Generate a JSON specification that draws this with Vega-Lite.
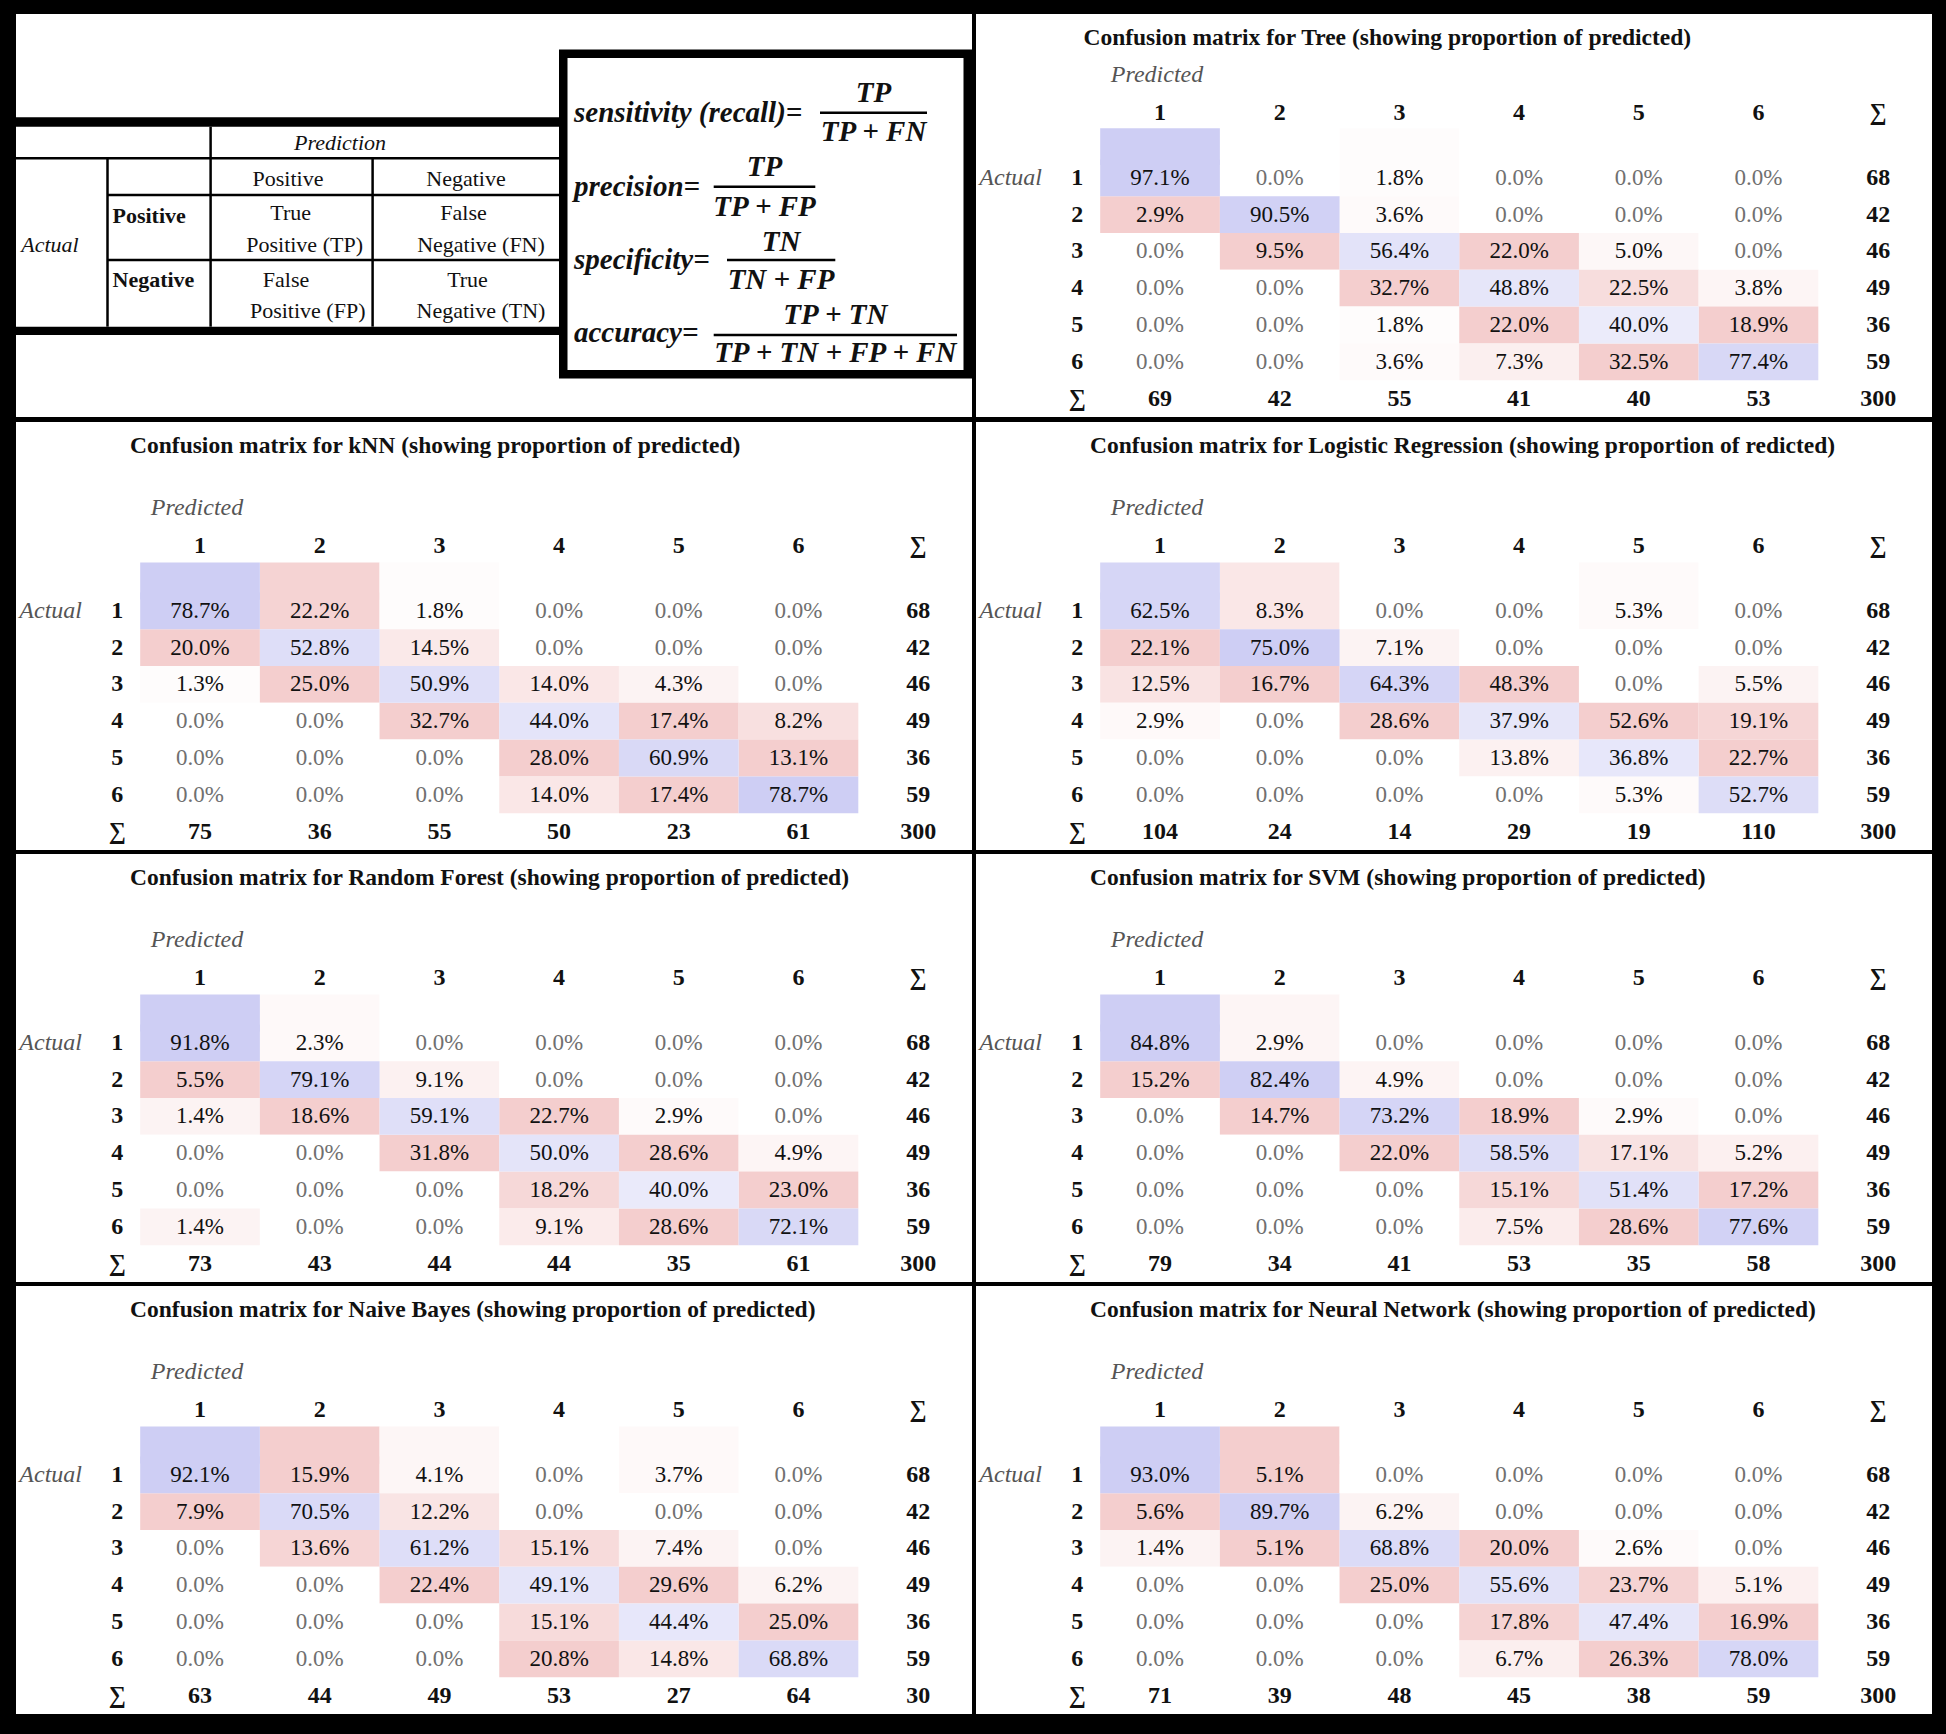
{
"$schema": "https://vega.github.io/schema/vega-lite/v6.json",
"background": "black",
"padding": {"left": 14, "top": 14, "right": 16, "bottom": 21},
"spacing": 4,
"config": {"view": {"stroke": null, "fill": "white"}, "text": {"font": "Liberation Serif", "color": "#111111"}, "header": {"labels": false, "labelFontSize": 1, "labelColor": "transparent", "labelPadding": 0, "titlePadding": 0, "titleFontSize": 1, "titleColor": "transparent"}},
"datasets": {
"cells": [
{"k":"c","m":"Tree","r":"1","c":"1","p":0.971,"w":1},{"k":"c","m":"Tree","r":"1","c":"2","p":0,"w":0},{"k":"c","m":"Tree","r":"1","c":"3","p":0.018,"w":0.055},{"k":"c","m":"Tree","r":"1","c":"4","p":0,"w":0},{"k":"c","m":"Tree","r":"1","c":"5","p":0,"w":0},{"k":"c","m":"Tree","r":"1","c":"6","p":0,"w":0},
{"k":"c","m":"Tree","r":"2","c":"1","p":0.029,"w":1},{"k":"c","m":"Tree","r":"2","c":"2","p":0.905,"w":0.932},{"k":"c","m":"Tree","r":"2","c":"3","p":0.036,"w":0.11},{"k":"c","m":"Tree","r":"2","c":"4","p":0,"w":0},{"k":"c","m":"Tree","r":"2","c":"5","p":0,"w":0},{"k":"c","m":"Tree","r":"2","c":"6","p":0,"w":0},
{"k":"c","m":"Tree","r":"3","c":"1","p":0,"w":0},{"k":"c","m":"Tree","r":"3","c":"2","p":0.095,"w":1},{"k":"c","m":"Tree","r":"3","c":"3","p":0.564,"w":0.581},{"k":"c","m":"Tree","r":"3","c":"4","p":0.22,"w":1},{"k":"c","m":"Tree","r":"3","c":"5","p":0.05,"w":0.154},{"k":"c","m":"Tree","r":"3","c":"6","p":0,"w":0},
{"k":"c","m":"Tree","r":"4","c":"1","p":0,"w":0},{"k":"c","m":"Tree","r":"4","c":"2","p":0,"w":0},{"k":"c","m":"Tree","r":"4","c":"3","p":0.327,"w":1},{"k":"c","m":"Tree","r":"4","c":"4","p":0.488,"w":0.503},{"k":"c","m":"Tree","r":"4","c":"5","p":0.225,"w":0.692},{"k":"c","m":"Tree","r":"4","c":"6","p":0.038,"w":0.201},
{"k":"c","m":"Tree","r":"5","c":"1","p":0,"w":0},{"k":"c","m":"Tree","r":"5","c":"2","p":0,"w":0},{"k":"c","m":"Tree","r":"5","c":"3","p":0.018,"w":0.055},{"k":"c","m":"Tree","r":"5","c":"4","p":0.22,"w":1},{"k":"c","m":"Tree","r":"5","c":"5","p":0.4,"w":0.412},{"k":"c","m":"Tree","r":"5","c":"6","p":0.189,"w":1},
{"k":"c","m":"Tree","r":"6","c":"1","p":0,"w":0},{"k":"c","m":"Tree","r":"6","c":"2","p":0,"w":0},{"k":"c","m":"Tree","r":"6","c":"3","p":0.036,"w":0.11},{"k":"c","m":"Tree","r":"6","c":"4","p":0.073,"w":0.332},{"k":"c","m":"Tree","r":"6","c":"5","p":0.325,"w":1},{"k":"c","m":"Tree","r":"6","c":"6","p":0.774,"w":0.797},

{"k":"c","m":"kNN","r":"1","c":"1","p":0.787,"w":1},{"k":"c","m":"kNN","r":"1","c":"2","p":0.222,"w":0.888},{"k":"c","m":"kNN","r":"1","c":"3","p":0.018,"w":0.055},{"k":"c","m":"kNN","r":"1","c":"4","p":0,"w":0},{"k":"c","m":"kNN","r":"1","c":"5","p":0,"w":0},{"k":"c","m":"kNN","r":"1","c":"6","p":0,"w":0},
{"k":"c","m":"kNN","r":"2","c":"1","p":0.2,"w":1},{"k":"c","m":"kNN","r":"2","c":"2","p":0.528,"w":0.671},{"k":"c","m":"kNN","r":"2","c":"3","p":0.145,"w":0.443},{"k":"c","m":"kNN","r":"2","c":"4","p":0,"w":0},{"k":"c","m":"kNN","r":"2","c":"5","p":0,"w":0},{"k":"c","m":"kNN","r":"2","c":"6","p":0,"w":0},
{"k":"c","m":"kNN","r":"3","c":"1","p":0.013,"w":0.065},{"k":"c","m":"kNN","r":"3","c":"2","p":0.25,"w":1},{"k":"c","m":"kNN","r":"3","c":"3","p":0.509,"w":0.647},{"k":"c","m":"kNN","r":"3","c":"4","p":0.14,"w":0.5},{"k":"c","m":"kNN","r":"3","c":"5","p":0.043,"w":0.247},{"k":"c","m":"kNN","r":"3","c":"6","p":0,"w":0},
{"k":"c","m":"kNN","r":"4","c":"1","p":0,"w":0},{"k":"c","m":"kNN","r":"4","c":"2","p":0,"w":0},{"k":"c","m":"kNN","r":"4","c":"3","p":0.327,"w":1},{"k":"c","m":"kNN","r":"4","c":"4","p":0.44,"w":0.559},{"k":"c","m":"kNN","r":"4","c":"5","p":0.174,"w":1},{"k":"c","m":"kNN","r":"4","c":"6","p":0.082,"w":0.626},
{"k":"c","m":"kNN","r":"5","c":"1","p":0,"w":0},{"k":"c","m":"kNN","r":"5","c":"2","p":0,"w":0},{"k":"c","m":"kNN","r":"5","c":"3","p":0,"w":0},{"k":"c","m":"kNN","r":"5","c":"4","p":0.28,"w":1},{"k":"c","m":"kNN","r":"5","c":"5","p":0.609,"w":0.774},{"k":"c","m":"kNN","r":"5","c":"6","p":0.131,"w":1},
{"k":"c","m":"kNN","r":"6","c":"1","p":0,"w":0},{"k":"c","m":"kNN","r":"6","c":"2","p":0,"w":0},{"k":"c","m":"kNN","r":"6","c":"3","p":0,"w":0},{"k":"c","m":"kNN","r":"6","c":"4","p":0.14,"w":0.5},{"k":"c","m":"kNN","r":"6","c":"5","p":0.174,"w":1},{"k":"c","m":"kNN","r":"6","c":"6","p":0.787,"w":1},

{"k":"c","m":"Logistic Regression","r":"1","c":"1","p":0.625,"w":0.833},{"k":"c","m":"Logistic Regression","r":"1","c":"2","p":0.083,"w":0.497},{"k":"c","m":"Logistic Regression","r":"1","c":"3","p":0,"w":0},{"k":"c","m":"Logistic Regression","r":"1","c":"4","p":0,"w":0},{"k":"c","m":"Logistic Regression","r":"1","c":"5","p":0.053,"w":0.101},{"k":"c","m":"Logistic Regression","r":"1","c":"6","p":0,"w":0},
{"k":"c","m":"Logistic Regression","r":"2","c":"1","p":0.221,"w":1},{"k":"c","m":"Logistic Regression","r":"2","c":"2","p":0.75,"w":1},{"k":"c","m":"Logistic Regression","r":"2","c":"3","p":0.071,"w":0.248},{"k":"c","m":"Logistic Regression","r":"2","c":"4","p":0,"w":0},{"k":"c","m":"Logistic Regression","r":"2","c":"5","p":0,"w":0},{"k":"c","m":"Logistic Regression","r":"2","c":"6","p":0,"w":0},
{"k":"c","m":"Logistic Regression","r":"3","c":"1","p":0.125,"w":0.566},{"k":"c","m":"Logistic Regression","r":"3","c":"2","p":0.167,"w":1},{"k":"c","m":"Logistic Regression","r":"3","c":"3","p":0.643,"w":0.857},{"k":"c","m":"Logistic Regression","r":"3","c":"4","p":0.483,"w":1},{"k":"c","m":"Logistic Regression","r":"3","c":"5","p":0,"w":0},{"k":"c","m":"Logistic Regression","r":"3","c":"6","p":0.055,"w":0.242},
{"k":"c","m":"Logistic Regression","r":"4","c":"1","p":0.029,"w":0.131},{"k":"c","m":"Logistic Regression","r":"4","c":"2","p":0,"w":0},{"k":"c","m":"Logistic Regression","r":"4","c":"3","p":0.286,"w":1},{"k":"c","m":"Logistic Regression","r":"4","c":"4","p":0.379,"w":0.505},{"k":"c","m":"Logistic Regression","r":"4","c":"5","p":0.526,"w":1},{"k":"c","m":"Logistic Regression","r":"4","c":"6","p":0.191,"w":0.841},
{"k":"c","m":"Logistic Regression","r":"5","c":"1","p":0,"w":0},{"k":"c","m":"Logistic Regression","r":"5","c":"2","p":0,"w":0},{"k":"c","m":"Logistic Regression","r":"5","c":"3","p":0,"w":0},{"k":"c","m":"Logistic Regression","r":"5","c":"4","p":0.138,"w":0.286},{"k":"c","m":"Logistic Regression","r":"5","c":"5","p":0.368,"w":0.491},{"k":"c","m":"Logistic Regression","r":"5","c":"6","p":0.227,"w":1},
{"k":"c","m":"Logistic Regression","r":"6","c":"1","p":0,"w":0},{"k":"c","m":"Logistic Regression","r":"6","c":"2","p":0,"w":0},{"k":"c","m":"Logistic Regression","r":"6","c":"3","p":0,"w":0},{"k":"c","m":"Logistic Regression","r":"6","c":"4","p":0,"w":0},{"k":"c","m":"Logistic Regression","r":"6","c":"5","p":0.053,"w":0.101},{"k":"c","m":"Logistic Regression","r":"6","c":"6","p":0.527,"w":0.703},

{"k":"c","m":"Random Forest","r":"1","c":"1","p":0.918,"w":1},{"k":"c","m":"Random Forest","r":"1","c":"2","p":0.023,"w":0.124},{"k":"c","m":"Random Forest","r":"1","c":"3","p":0,"w":0},{"k":"c","m":"Random Forest","r":"1","c":"4","p":0,"w":0},{"k":"c","m":"Random Forest","r":"1","c":"5","p":0,"w":0},{"k":"c","m":"Random Forest","r":"1","c":"6","p":0,"w":0},
{"k":"c","m":"Random Forest","r":"2","c":"1","p":0.055,"w":1},{"k":"c","m":"Random Forest","r":"2","c":"2","p":0.791,"w":0.862},{"k":"c","m":"Random Forest","r":"2","c":"3","p":0.091,"w":0.286},{"k":"c","m":"Random Forest","r":"2","c":"4","p":0,"w":0},{"k":"c","m":"Random Forest","r":"2","c":"5","p":0,"w":0},{"k":"c","m":"Random Forest","r":"2","c":"6","p":0,"w":0},
{"k":"c","m":"Random Forest","r":"3","c":"1","p":0.014,"w":0.255},{"k":"c","m":"Random Forest","r":"3","c":"2","p":0.186,"w":1},{"k":"c","m":"Random Forest","r":"3","c":"3","p":0.591,"w":0.644},{"k":"c","m":"Random Forest","r":"3","c":"4","p":0.227,"w":1},{"k":"c","m":"Random Forest","r":"3","c":"5","p":0.029,"w":0.101},{"k":"c","m":"Random Forest","r":"3","c":"6","p":0,"w":0},
{"k":"c","m":"Random Forest","r":"4","c":"1","p":0,"w":0},{"k":"c","m":"Random Forest","r":"4","c":"2","p":0,"w":0},{"k":"c","m":"Random Forest","r":"4","c":"3","p":0.318,"w":1},{"k":"c","m":"Random Forest","r":"4","c":"4","p":0.5,"w":0.545},{"k":"c","m":"Random Forest","r":"4","c":"5","p":0.286,"w":1},{"k":"c","m":"Random Forest","r":"4","c":"6","p":0.049,"w":0.213},
{"k":"c","m":"Random Forest","r":"5","c":"1","p":0,"w":0},{"k":"c","m":"Random Forest","r":"5","c":"2","p":0,"w":0},{"k":"c","m":"Random Forest","r":"5","c":"3","p":0,"w":0},{"k":"c","m":"Random Forest","r":"5","c":"4","p":0.182,"w":0.802},{"k":"c","m":"Random Forest","r":"5","c":"5","p":0.4,"w":0.436},{"k":"c","m":"Random Forest","r":"5","c":"6","p":0.23,"w":1},
{"k":"c","m":"Random Forest","r":"6","c":"1","p":0.014,"w":0.255},{"k":"c","m":"Random Forest","r":"6","c":"2","p":0,"w":0},{"k":"c","m":"Random Forest","r":"6","c":"3","p":0,"w":0},{"k":"c","m":"Random Forest","r":"6","c":"4","p":0.091,"w":0.401},{"k":"c","m":"Random Forest","r":"6","c":"5","p":0.286,"w":1},{"k":"c","m":"Random Forest","r":"6","c":"6","p":0.721,"w":0.785},

{"k":"c","m":"SVM","r":"1","c":"1","p":0.848,"w":1},{"k":"c","m":"SVM","r":"1","c":"2","p":0.029,"w":0.197},{"k":"c","m":"SVM","r":"1","c":"3","p":0,"w":0},{"k":"c","m":"SVM","r":"1","c":"4","p":0,"w":0},{"k":"c","m":"SVM","r":"1","c":"5","p":0,"w":0},{"k":"c","m":"SVM","r":"1","c":"6","p":0,"w":0},
{"k":"c","m":"SVM","r":"2","c":"1","p":0.152,"w":1},{"k":"c","m":"SVM","r":"2","c":"2","p":0.824,"w":0.972},{"k":"c","m":"SVM","r":"2","c":"3","p":0.049,"w":0.223},{"k":"c","m":"SVM","r":"2","c":"4","p":0,"w":0},{"k":"c","m":"SVM","r":"2","c":"5","p":0,"w":0},{"k":"c","m":"SVM","r":"2","c":"6","p":0,"w":0},
{"k":"c","m":"SVM","r":"3","c":"1","p":0,"w":0},{"k":"c","m":"SVM","r":"3","c":"2","p":0.147,"w":1},{"k":"c","m":"SVM","r":"3","c":"3","p":0.732,"w":0.863},{"k":"c","m":"SVM","r":"3","c":"4","p":0.189,"w":1},{"k":"c","m":"SVM","r":"3","c":"5","p":0.029,"w":0.101},{"k":"c","m":"SVM","r":"3","c":"6","p":0,"w":0},
{"k":"c","m":"SVM","r":"4","c":"1","p":0,"w":0},{"k":"c","m":"SVM","r":"4","c":"2","p":0,"w":0},{"k":"c","m":"SVM","r":"4","c":"3","p":0.22,"w":1},{"k":"c","m":"SVM","r":"4","c":"4","p":0.585,"w":0.69},{"k":"c","m":"SVM","r":"4","c":"5","p":0.171,"w":0.598},{"k":"c","m":"SVM","r":"4","c":"6","p":0.052,"w":0.302},
{"k":"c","m":"SVM","r":"5","c":"1","p":0,"w":0},{"k":"c","m":"SVM","r":"5","c":"2","p":0,"w":0},{"k":"c","m":"SVM","r":"5","c":"3","p":0,"w":0},{"k":"c","m":"SVM","r":"5","c":"4","p":0.151,"w":0.799},{"k":"c","m":"SVM","r":"5","c":"5","p":0.514,"w":0.606},{"k":"c","m":"SVM","r":"5","c":"6","p":0.172,"w":1},
{"k":"c","m":"SVM","r":"6","c":"1","p":0,"w":0},{"k":"c","m":"SVM","r":"6","c":"2","p":0,"w":0},{"k":"c","m":"SVM","r":"6","c":"3","p":0,"w":0},{"k":"c","m":"SVM","r":"6","c":"4","p":0.075,"w":0.397},{"k":"c","m":"SVM","r":"6","c":"5","p":0.286,"w":1},{"k":"c","m":"SVM","r":"6","c":"6","p":0.776,"w":0.915},

{"k":"c","m":"Naive Bayes","r":"1","c":"1","p":0.921,"w":1},{"k":"c","m":"Naive Bayes","r":"1","c":"2","p":0.159,"w":1},{"k":"c","m":"Naive Bayes","r":"1","c":"3","p":0.041,"w":0.183},{"k":"c","m":"Naive Bayes","r":"1","c":"4","p":0,"w":0},{"k":"c","m":"Naive Bayes","r":"1","c":"5","p":0.037,"w":0.125},{"k":"c","m":"Naive Bayes","r":"1","c":"6","p":0,"w":0},
{"k":"c","m":"Naive Bayes","r":"2","c":"1","p":0.079,"w":1},{"k":"c","m":"Naive Bayes","r":"2","c":"2","p":0.705,"w":0.765},{"k":"c","m":"Naive Bayes","r":"2","c":"3","p":0.122,"w":0.545},{"k":"c","m":"Naive Bayes","r":"2","c":"4","p":0,"w":0},{"k":"c","m":"Naive Bayes","r":"2","c":"5","p":0,"w":0},{"k":"c","m":"Naive Bayes","r":"2","c":"6","p":0,"w":0},
{"k":"c","m":"Naive Bayes","r":"3","c":"1","p":0,"w":0},{"k":"c","m":"Naive Bayes","r":"3","c":"2","p":0.136,"w":0.855},{"k":"c","m":"Naive Bayes","r":"3","c":"3","p":0.612,"w":0.664},{"k":"c","m":"Naive Bayes","r":"3","c":"4","p":0.151,"w":0.726},{"k":"c","m":"Naive Bayes","r":"3","c":"5","p":0.074,"w":0.25},{"k":"c","m":"Naive Bayes","r":"3","c":"6","p":0,"w":0},
{"k":"c","m":"Naive Bayes","r":"4","c":"1","p":0,"w":0},{"k":"c","m":"Naive Bayes","r":"4","c":"2","p":0,"w":0},{"k":"c","m":"Naive Bayes","r":"4","c":"3","p":0.224,"w":1},{"k":"c","m":"Naive Bayes","r":"4","c":"4","p":0.491,"w":0.533},{"k":"c","m":"Naive Bayes","r":"4","c":"5","p":0.296,"w":1},{"k":"c","m":"Naive Bayes","r":"4","c":"6","p":0.062,"w":0.248},
{"k":"c","m":"Naive Bayes","r":"5","c":"1","p":0,"w":0},{"k":"c","m":"Naive Bayes","r":"5","c":"2","p":0,"w":0},{"k":"c","m":"Naive Bayes","r":"5","c":"3","p":0,"w":0},{"k":"c","m":"Naive Bayes","r":"5","c":"4","p":0.151,"w":0.726},{"k":"c","m":"Naive Bayes","r":"5","c":"5","p":0.444,"w":0.482},{"k":"c","m":"Naive Bayes","r":"5","c":"6","p":0.25,"w":1},
{"k":"c","m":"Naive Bayes","r":"6","c":"1","p":0,"w":0},{"k":"c","m":"Naive Bayes","r":"6","c":"2","p":0,"w":0},{"k":"c","m":"Naive Bayes","r":"6","c":"3","p":0,"w":0},{"k":"c","m":"Naive Bayes","r":"6","c":"4","p":0.208,"w":1},{"k":"c","m":"Naive Bayes","r":"6","c":"5","p":0.148,"w":0.5},{"k":"c","m":"Naive Bayes","r":"6","c":"6","p":0.688,"w":0.747},

{"k":"c","m":"Neural Network","r":"1","c":"1","p":0.93,"w":1},{"k":"c","m":"Neural Network","r":"1","c":"2","p":0.051,"w":1},{"k":"c","m":"Neural Network","r":"1","c":"3","p":0,"w":0},{"k":"c","m":"Neural Network","r":"1","c":"4","p":0,"w":0},{"k":"c","m":"Neural Network","r":"1","c":"5","p":0,"w":0},{"k":"c","m":"Neural Network","r":"1","c":"6","p":0,"w":0},
{"k":"c","m":"Neural Network","r":"2","c":"1","p":0.056,"w":1},{"k":"c","m":"Neural Network","r":"2","c":"2","p":0.897,"w":0.965},{"k":"c","m":"Neural Network","r":"2","c":"3","p":0.062,"w":0.248},{"k":"c","m":"Neural Network","r":"2","c":"4","p":0,"w":0},{"k":"c","m":"Neural Network","r":"2","c":"5","p":0,"w":0},{"k":"c","m":"Neural Network","r":"2","c":"6","p":0,"w":0},
{"k":"c","m":"Neural Network","r":"3","c":"1","p":0.014,"w":0.25},{"k":"c","m":"Neural Network","r":"3","c":"2","p":0.051,"w":1},{"k":"c","m":"Neural Network","r":"3","c":"3","p":0.688,"w":0.74},{"k":"c","m":"Neural Network","r":"3","c":"4","p":0.2,"w":1},{"k":"c","m":"Neural Network","r":"3","c":"5","p":0.026,"w":0.099},{"k":"c","m":"Neural Network","r":"3","c":"6","p":0,"w":0},
{"k":"c","m":"Neural Network","r":"4","c":"1","p":0,"w":0},{"k":"c","m":"Neural Network","r":"4","c":"2","p":0,"w":0},{"k":"c","m":"Neural Network","r":"4","c":"3","p":0.25,"w":1},{"k":"c","m":"Neural Network","r":"4","c":"4","p":0.556,"w":0.598},{"k":"c","m":"Neural Network","r":"4","c":"5","p":0.237,"w":0.901},{"k":"c","m":"Neural Network","r":"4","c":"6","p":0.051,"w":0.302},
{"k":"c","m":"Neural Network","r":"5","c":"1","p":0,"w":0},{"k":"c","m":"Neural Network","r":"5","c":"2","p":0,"w":0},{"k":"c","m":"Neural Network","r":"5","c":"3","p":0,"w":0},{"k":"c","m":"Neural Network","r":"5","c":"4","p":0.178,"w":0.89},{"k":"c","m":"Neural Network","r":"5","c":"5","p":0.474,"w":0.51},{"k":"c","m":"Neural Network","r":"5","c":"6","p":0.169,"w":1},
{"k":"c","m":"Neural Network","r":"6","c":"1","p":0,"w":0},{"k":"c","m":"Neural Network","r":"6","c":"2","p":0,"w":0},{"k":"c","m":"Neural Network","r":"6","c":"3","p":0,"w":0},{"k":"c","m":"Neural Network","r":"6","c":"4","p":0.067,"w":0.335},{"k":"c","m":"Neural Network","r":"6","c":"5","p":0.263,"w":1},{"k":"c","m":"Neural Network","r":"6","c":"6","p":0.78,"w":0.839},

{"k":"t","m":"Tree","r":"1","c":"∑","n":68},{"k":"t","m":"Tree","r":"2","c":"∑","n":42},{"k":"t","m":"Tree","r":"3","c":"∑","n":46},{"k":"t","m":"Tree","r":"4","c":"∑","n":49},{"k":"t","m":"Tree","r":"5","c":"∑","n":36},{"k":"t","m":"Tree","r":"6","c":"∑","n":59},
{"k":"t","m":"Tree","r":"∑","c":"1","n":69},{"k":"t","m":"Tree","r":"∑","c":"2","n":42},{"k":"t","m":"Tree","r":"∑","c":"3","n":55},{"k":"t","m":"Tree","r":"∑","c":"4","n":41},{"k":"t","m":"Tree","r":"∑","c":"5","n":40},{"k":"t","m":"Tree","r":"∑","c":"6","n":53},
{"k":"t","m":"Tree","r":"∑","c":"∑","n":300,"t":"Confusion matrix for Tree (showing proportion of predicted)"},

{"k":"t","m":"kNN","r":"1","c":"∑","n":68},{"k":"t","m":"kNN","r":"2","c":"∑","n":42},{"k":"t","m":"kNN","r":"3","c":"∑","n":46},{"k":"t","m":"kNN","r":"4","c":"∑","n":49},{"k":"t","m":"kNN","r":"5","c":"∑","n":36},{"k":"t","m":"kNN","r":"6","c":"∑","n":59},
{"k":"t","m":"kNN","r":"∑","c":"1","n":75},{"k":"t","m":"kNN","r":"∑","c":"2","n":36},{"k":"t","m":"kNN","r":"∑","c":"3","n":55},{"k":"t","m":"kNN","r":"∑","c":"4","n":50},{"k":"t","m":"kNN","r":"∑","c":"5","n":23},{"k":"t","m":"kNN","r":"∑","c":"6","n":61},
{"k":"t","m":"kNN","r":"∑","c":"∑","n":300,"t":"Confusion matrix for kNN (showing proportion of predicted)"},

{"k":"t","m":"Logistic Regression","r":"1","c":"∑","n":68},{"k":"t","m":"Logistic Regression","r":"2","c":"∑","n":42},{"k":"t","m":"Logistic Regression","r":"3","c":"∑","n":46},{"k":"t","m":"Logistic Regression","r":"4","c":"∑","n":49},{"k":"t","m":"Logistic Regression","r":"5","c":"∑","n":36},{"k":"t","m":"Logistic Regression","r":"6","c":"∑","n":59},
{"k":"t","m":"Logistic Regression","r":"∑","c":"1","n":104},{"k":"t","m":"Logistic Regression","r":"∑","c":"2","n":24},{"k":"t","m":"Logistic Regression","r":"∑","c":"3","n":14},{"k":"t","m":"Logistic Regression","r":"∑","c":"4","n":29},{"k":"t","m":"Logistic Regression","r":"∑","c":"5","n":19},{"k":"t","m":"Logistic Regression","r":"∑","c":"6","n":110},
{"k":"t","m":"Logistic Regression","r":"∑","c":"∑","n":300,"t":"Confusion matrix for Logistic Regression (showing proportion of redicted)"},

{"k":"t","m":"Random Forest","r":"1","c":"∑","n":68},{"k":"t","m":"Random Forest","r":"2","c":"∑","n":42},{"k":"t","m":"Random Forest","r":"3","c":"∑","n":46},{"k":"t","m":"Random Forest","r":"4","c":"∑","n":49},{"k":"t","m":"Random Forest","r":"5","c":"∑","n":36},{"k":"t","m":"Random Forest","r":"6","c":"∑","n":59},
{"k":"t","m":"Random Forest","r":"∑","c":"1","n":73},{"k":"t","m":"Random Forest","r":"∑","c":"2","n":43},{"k":"t","m":"Random Forest","r":"∑","c":"3","n":44},{"k":"t","m":"Random Forest","r":"∑","c":"4","n":44},{"k":"t","m":"Random Forest","r":"∑","c":"5","n":35},{"k":"t","m":"Random Forest","r":"∑","c":"6","n":61},
{"k":"t","m":"Random Forest","r":"∑","c":"∑","n":300,"t":"Confusion matrix for Random Forest (showing proportion of predicted)"},

{"k":"t","m":"SVM","r":"1","c":"∑","n":68},{"k":"t","m":"SVM","r":"2","c":"∑","n":42},{"k":"t","m":"SVM","r":"3","c":"∑","n":46},{"k":"t","m":"SVM","r":"4","c":"∑","n":49},{"k":"t","m":"SVM","r":"5","c":"∑","n":36},{"k":"t","m":"SVM","r":"6","c":"∑","n":59},
{"k":"t","m":"SVM","r":"∑","c":"1","n":79},{"k":"t","m":"SVM","r":"∑","c":"2","n":34},{"k":"t","m":"SVM","r":"∑","c":"3","n":41},{"k":"t","m":"SVM","r":"∑","c":"4","n":53},{"k":"t","m":"SVM","r":"∑","c":"5","n":35},{"k":"t","m":"SVM","r":"∑","c":"6","n":58},
{"k":"t","m":"SVM","r":"∑","c":"∑","n":300,"t":"Confusion matrix for SVM (showing proportion of predicted)"},

{"k":"t","m":"Naive Bayes","r":"1","c":"∑","n":68},{"k":"t","m":"Naive Bayes","r":"2","c":"∑","n":42},{"k":"t","m":"Naive Bayes","r":"3","c":"∑","n":46},{"k":"t","m":"Naive Bayes","r":"4","c":"∑","n":49},{"k":"t","m":"Naive Bayes","r":"5","c":"∑","n":36},{"k":"t","m":"Naive Bayes","r":"6","c":"∑","n":59},
{"k":"t","m":"Naive Bayes","r":"∑","c":"1","n":63},{"k":"t","m":"Naive Bayes","r":"∑","c":"2","n":44},{"k":"t","m":"Naive Bayes","r":"∑","c":"3","n":49},{"k":"t","m":"Naive Bayes","r":"∑","c":"4","n":53},{"k":"t","m":"Naive Bayes","r":"∑","c":"5","n":27},{"k":"t","m":"Naive Bayes","r":"∑","c":"6","n":64},
{"k":"t","m":"Naive Bayes","r":"∑","c":"∑","n":30,"t":"Confusion matrix for Naive Bayes (showing proportion of predicted)"},

{"k":"t","m":"Neural Network","r":"1","c":"∑","n":68},{"k":"t","m":"Neural Network","r":"2","c":"∑","n":42},{"k":"t","m":"Neural Network","r":"3","c":"∑","n":46},{"k":"t","m":"Neural Network","r":"4","c":"∑","n":49},{"k":"t","m":"Neural Network","r":"5","c":"∑","n":36},{"k":"t","m":"Neural Network","r":"6","c":"∑","n":59},
{"k":"t","m":"Neural Network","r":"∑","c":"1","n":71},{"k":"t","m":"Neural Network","r":"∑","c":"2","n":39},{"k":"t","m":"Neural Network","r":"∑","c":"3","n":48},{"k":"t","m":"Neural Network","r":"∑","c":"4","n":45},{"k":"t","m":"Neural Network","r":"∑","c":"5","n":38},{"k":"t","m":"Neural Network","r":"∑","c":"6","n":59},
{"k":"t","m":"Neural Network","r":"∑","c":"∑","n":300,"t":"Confusion matrix for Neural Network (showing proportion of predicted)"}
]
},
"vconcat": [
{
"spacing": 4,
"hconcat": [
{
"width": 956, "height": 403,
"data": {"values": [{}]},
"layer": [
{"mark": {"type": "rect", "color": "black"}, "encoding": {"x": {"datum": 0, "type": "quantitative", "scale": {"domain": [0, 956], "nice": false, "zero": false}, "axis": null}, "x2": {"datum": 543}, "y": {"datum": 103.3, "type": "quantitative", "scale": {"domain": [0, 403], "nice": false, "zero": false, "reverse": true}, "axis": null}, "y2": {"datum": 112.7}}},
{"mark": {"type": "rect", "color": "black"}, "encoding": {"x": {"datum": 0, "type": "quantitative", "scale": {"domain": [0, 956], "nice": false, "zero": false}, "axis": null}, "x2": {"datum": 543}, "y": {"datum": 312.7, "type": "quantitative", "scale": {"domain": [0, 403], "nice": false, "zero": false, "reverse": true}, "axis": null}, "y2": {"datum": 321}}},
{"mark": {"type": "rect", "fill": "white", "stroke": "black", "strokeWidth": 8.5}, "encoding": {"x": {"datum": 547.25, "type": "quantitative", "scale": {"domain": [0, 956], "nice": false, "zero": false}, "axis": null}, "x2": {"datum": 951.75}, "y": {"datum": 39.8, "type": "quantitative", "scale": {"domain": [0, 403], "nice": false, "zero": false, "reverse": true}, "axis": null}, "y2": {"datum": 360.3}}},
{"mark": {"type": "rule", "strokeWidth": 2.5, "color": "black"}, "encoding": {"x": {"datum": 0, "type": "quantitative", "scale": {"domain": [0, 956], "nice": false, "zero": false}, "axis": null}, "x2": {"datum": 543}, "y": {"datum": 144.3, "type": "quantitative", "scale": {"domain": [0, 403], "nice": false, "zero": false, "reverse": true}, "axis": null}}},
{"mark": {"type": "rule", "strokeWidth": 2.5, "color": "black"}, "encoding": {"x": {"datum": 91.5, "type": "quantitative", "scale": {"domain": [0, 956], "nice": false, "zero": false}, "axis": null}, "x2": {"datum": 543}, "y": {"datum": 181, "type": "quantitative", "scale": {"domain": [0, 403], "nice": false, "zero": false, "reverse": true}, "axis": null}}},
{"mark": {"type": "rule", "strokeWidth": 2.5, "color": "black"}, "encoding": {"x": {"datum": 91.5, "type": "quantitative", "scale": {"domain": [0, 956], "nice": false, "zero": false}, "axis": null}, "x2": {"datum": 543}, "y": {"datum": 246, "type": "quantitative", "scale": {"domain": [0, 403], "nice": false, "zero": false, "reverse": true}, "axis": null}}},
{"mark": {"type": "rule", "strokeWidth": 2.5, "color": "black"}, "encoding": {"x": {"datum": 194.6, "type": "quantitative", "scale": {"domain": [0, 956], "nice": false, "zero": false}, "axis": null}, "y": {"datum": 112.7, "type": "quantitative", "scale": {"domain": [0, 403], "nice": false, "zero": false, "reverse": true}, "axis": null}, "y2": {"datum": 312.7}}},
{"mark": {"type": "rule", "strokeWidth": 2.5, "color": "black"}, "encoding": {"x": {"datum": 91.5, "type": "quantitative", "scale": {"domain": [0, 956], "nice": false, "zero": false}, "axis": null}, "y": {"datum": 144.3, "type": "quantitative", "scale": {"domain": [0, 403], "nice": false, "zero": false, "reverse": true}, "axis": null}, "y2": {"datum": 312.7}}},
{"mark": {"type": "rule", "strokeWidth": 2.5, "color": "black"}, "encoding": {"x": {"datum": 356.6, "type": "quantitative", "scale": {"domain": [0, 956], "nice": false, "zero": false}, "axis": null}, "y": {"datum": 144.3, "type": "quantitative", "scale": {"domain": [0, 403], "nice": false, "zero": false, "reverse": true}, "axis": null}, "y2": {"datum": 312.7}}},
{"mark": {"type": "text", "text": "Prediction", "fontSize": 22, "fontStyle": "italic"}, "encoding": {"x": {"datum": 324, "type": "quantitative", "scale": {"domain": [0, 956], "nice": false, "zero": false}, "axis": null}, "y": {"datum": 129, "type": "quantitative", "scale": {"domain": [0, 403], "nice": false, "zero": false, "reverse": true}, "axis": null}}},
{"mark": {"type": "text", "text": "Positive", "fontSize": 22}, "encoding": {"x": {"datum": 272, "type": "quantitative", "scale": {"domain": [0, 956], "nice": false, "zero": false}, "axis": null}, "y": {"datum": 165, "type": "quantitative", "scale": {"domain": [0, 403], "nice": false, "zero": false, "reverse": true}, "axis": null}}},
{"mark": {"type": "text", "text": "Negative", "fontSize": 22}, "encoding": {"x": {"datum": 450, "type": "quantitative", "scale": {"domain": [0, 956], "nice": false, "zero": false}, "axis": null}, "y": {"datum": 165, "type": "quantitative", "scale": {"domain": [0, 403], "nice": false, "zero": false, "reverse": true}, "axis": null}}},
{"mark": {"type": "text", "text": "Actual", "fontSize": 22, "fontStyle": "italic"}, "encoding": {"x": {"datum": 34, "type": "quantitative", "scale": {"domain": [0, 956], "nice": false, "zero": false}, "axis": null}, "y": {"datum": 231, "type": "quantitative", "scale": {"domain": [0, 403], "nice": false, "zero": false, "reverse": true}, "axis": null}}},
{"mark": {"type": "text", "text": "Positive", "fontSize": 22, "fontWeight": "bold", "align": "left"}, "encoding": {"x": {"datum": 96.5, "type": "quantitative", "scale": {"domain": [0, 956], "nice": false, "zero": false}, "axis": null}, "y": {"datum": 202, "type": "quantitative", "scale": {"domain": [0, 403], "nice": false, "zero": false, "reverse": true}, "axis": null}}},
{"mark": {"type": "text", "text": "Negative", "fontSize": 22, "fontWeight": "bold", "align": "left"}, "encoding": {"x": {"datum": 96.5, "type": "quantitative", "scale": {"domain": [0, 956], "nice": false, "zero": false}, "axis": null}, "y": {"datum": 266, "type": "quantitative", "scale": {"domain": [0, 403], "nice": false, "zero": false, "reverse": true}, "axis": null}}},
{"mark": {"type": "text", "text": "True", "fontSize": 22}, "encoding": {"x": {"datum": 274.6, "type": "quantitative", "scale": {"domain": [0, 956], "nice": false, "zero": false}, "axis": null}, "y": {"datum": 198.5, "type": "quantitative", "scale": {"domain": [0, 403], "nice": false, "zero": false, "reverse": true}, "axis": null}}},
{"mark": {"type": "text", "text": "Positive (TP)", "fontSize": 22}, "encoding": {"x": {"datum": 288.6, "type": "quantitative", "scale": {"domain": [0, 956], "nice": false, "zero": false}, "axis": null}, "y": {"datum": 231.3, "type": "quantitative", "scale": {"domain": [0, 403], "nice": false, "zero": false, "reverse": true}, "axis": null}}},
{"mark": {"type": "text", "text": "False", "fontSize": 22}, "encoding": {"x": {"datum": 447.5, "type": "quantitative", "scale": {"domain": [0, 956], "nice": false, "zero": false}, "axis": null}, "y": {"datum": 198.5, "type": "quantitative", "scale": {"domain": [0, 403], "nice": false, "zero": false, "reverse": true}, "axis": null}}},
{"mark": {"type": "text", "text": "Negative (FN)", "fontSize": 22}, "encoding": {"x": {"datum": 465, "type": "quantitative", "scale": {"domain": [0, 956], "nice": false, "zero": false}, "axis": null}, "y": {"datum": 231.3, "type": "quantitative", "scale": {"domain": [0, 403], "nice": false, "zero": false, "reverse": true}, "axis": null}}},
{"mark": {"type": "text", "text": "False", "fontSize": 22}, "encoding": {"x": {"datum": 270, "type": "quantitative", "scale": {"domain": [0, 956], "nice": false, "zero": false}, "axis": null}, "y": {"datum": 265.7, "type": "quantitative", "scale": {"domain": [0, 403], "nice": false, "zero": false, "reverse": true}, "axis": null}}},
{"mark": {"type": "text", "text": "Positive (FP)", "fontSize": 22}, "encoding": {"x": {"datum": 291.7, "type": "quantitative", "scale": {"domain": [0, 956], "nice": false, "zero": false}, "axis": null}, "y": {"datum": 296.9, "type": "quantitative", "scale": {"domain": [0, 403], "nice": false, "zero": false, "reverse": true}, "axis": null}}},
{"mark": {"type": "text", "text": "True", "fontSize": 22}, "encoding": {"x": {"datum": 451.5, "type": "quantitative", "scale": {"domain": [0, 956], "nice": false, "zero": false}, "axis": null}, "y": {"datum": 265.7, "type": "quantitative", "scale": {"domain": [0, 403], "nice": false, "zero": false, "reverse": true}, "axis": null}}},
{"mark": {"type": "text", "text": "Negative (TN)", "fontSize": 22}, "encoding": {"x": {"datum": 465, "type": "quantitative", "scale": {"domain": [0, 956], "nice": false, "zero": false}, "axis": null}, "y": {"datum": 296.9, "type": "quantitative", "scale": {"domain": [0, 403], "nice": false, "zero": false, "reverse": true}, "axis": null}}},
{"mark": {"type": "text", "text": "sensitivity (recall)=", "fontSize": 29, "fontWeight": "bold", "fontStyle": "italic", "align": "left"}, "encoding": {"x": {"datum": 558, "type": "quantitative", "scale": {"domain": [0, 956], "nice": false, "zero": false}, "axis": null}, "y": {"datum": 99.3, "type": "quantitative", "scale": {"domain": [0, 403], "nice": false, "zero": false, "reverse": true}, "axis": null}}},
{"mark": {"type": "text", "text": "TP", "fontSize": 29, "fontWeight": "bold", "fontStyle": "italic"}, "encoding": {"x": {"datum": 857.5, "type": "quantitative", "scale": {"domain": [0, 956], "nice": false, "zero": false}, "axis": null}, "y": {"datum": 78.7, "type": "quantitative", "scale": {"domain": [0, 403], "nice": false, "zero": false, "reverse": true}, "axis": null}}},
{"mark": {"type": "rule", "strokeWidth": 2.5, "color": "black"}, "encoding": {"x": {"datum": 804, "type": "quantitative", "scale": {"domain": [0, 956], "nice": false, "zero": false}, "axis": null}, "x2": {"datum": 911}, "y": {"datum": 98.7, "type": "quantitative", "scale": {"domain": [0, 403], "nice": false, "zero": false, "reverse": true}, "axis": null}}},
{"mark": {"type": "text", "text": "TP + FN", "fontSize": 29, "fontWeight": "bold", "fontStyle": "italic"}, "encoding": {"x": {"datum": 857.5, "type": "quantitative", "scale": {"domain": [0, 956], "nice": false, "zero": false}, "axis": null}, "y": {"datum": 117.7, "type": "quantitative", "scale": {"domain": [0, 403], "nice": false, "zero": false, "reverse": true}, "axis": null}}},
{"mark": {"type": "text", "text": "precision=", "fontSize": 29, "fontWeight": "bold", "fontStyle": "italic", "align": "left"}, "encoding": {"x": {"datum": 558, "type": "quantitative", "scale": {"domain": [0, 956], "nice": false, "zero": false}, "axis": null}, "y": {"datum": 172.7, "type": "quantitative", "scale": {"domain": [0, 403], "nice": false, "zero": false, "reverse": true}, "axis": null}}},
{"mark": {"type": "text", "text": "TP", "fontSize": 29, "fontWeight": "bold", "fontStyle": "italic"}, "encoding": {"x": {"datum": 748.5, "type": "quantitative", "scale": {"domain": [0, 956], "nice": false, "zero": false}, "axis": null}, "y": {"datum": 152.7, "type": "quantitative", "scale": {"domain": [0, 403], "nice": false, "zero": false, "reverse": true}, "axis": null}}},
{"mark": {"type": "rule", "strokeWidth": 2.5, "color": "black"}, "encoding": {"x": {"datum": 697.7, "type": "quantitative", "scale": {"domain": [0, 956], "nice": false, "zero": false}, "axis": null}, "x2": {"datum": 799.3}, "y": {"datum": 172.7, "type": "quantitative", "scale": {"domain": [0, 403], "nice": false, "zero": false, "reverse": true}, "axis": null}}},
{"mark": {"type": "text", "text": "TP + FP", "fontSize": 29, "fontWeight": "bold", "fontStyle": "italic"}, "encoding": {"x": {"datum": 748.5, "type": "quantitative", "scale": {"domain": [0, 956], "nice": false, "zero": false}, "axis": null}, "y": {"datum": 192.7, "type": "quantitative", "scale": {"domain": [0, 403], "nice": false, "zero": false, "reverse": true}, "axis": null}}},
{"mark": {"type": "text", "text": "specificity=", "fontSize": 29, "fontWeight": "bold", "fontStyle": "italic", "align": "left"}, "encoding": {"x": {"datum": 558, "type": "quantitative", "scale": {"domain": [0, 956], "nice": false, "zero": false}, "axis": null}, "y": {"datum": 246, "type": "quantitative", "scale": {"domain": [0, 403], "nice": false, "zero": false, "reverse": true}, "axis": null}}},
{"mark": {"type": "text", "text": "TN", "fontSize": 29, "fontWeight": "bold", "fontStyle": "italic"}, "encoding": {"x": {"datum": 765, "type": "quantitative", "scale": {"domain": [0, 956], "nice": false, "zero": false}, "axis": null}, "y": {"datum": 227.7, "type": "quantitative", "scale": {"domain": [0, 403], "nice": false, "zero": false, "reverse": true}, "axis": null}}},
{"mark": {"type": "rule", "strokeWidth": 2.5, "color": "black"}, "encoding": {"x": {"datum": 711, "type": "quantitative", "scale": {"domain": [0, 956], "nice": false, "zero": false}, "axis": null}, "x2": {"datum": 819.3}, "y": {"datum": 246, "type": "quantitative", "scale": {"domain": [0, 403], "nice": false, "zero": false, "reverse": true}, "axis": null}}},
{"mark": {"type": "text", "text": "TN + FP", "fontSize": 29, "fontWeight": "bold", "fontStyle": "italic"}, "encoding": {"x": {"datum": 765, "type": "quantitative", "scale": {"domain": [0, 956], "nice": false, "zero": false}, "axis": null}, "y": {"datum": 266, "type": "quantitative", "scale": {"domain": [0, 403], "nice": false, "zero": false, "reverse": true}, "axis": null}}},
{"mark": {"type": "text", "text": "accuracy=", "fontSize": 29, "fontWeight": "bold", "fontStyle": "italic", "align": "left"}, "encoding": {"x": {"datum": 558, "type": "quantitative", "scale": {"domain": [0, 956], "nice": false, "zero": false}, "axis": null}, "y": {"datum": 319.3, "type": "quantitative", "scale": {"domain": [0, 403], "nice": false, "zero": false, "reverse": true}, "axis": null}}},
{"mark": {"type": "text", "text": "TP + TN", "fontSize": 29, "fontWeight": "bold", "fontStyle": "italic"}, "encoding": {"x": {"datum": 819.3, "type": "quantitative", "scale": {"domain": [0, 956], "nice": false, "zero": false}, "axis": null}, "y": {"datum": 301, "type": "quantitative", "scale": {"domain": [0, 403], "nice": false, "zero": false, "reverse": true}, "axis": null}}},
{"mark": {"type": "rule", "strokeWidth": 2.5, "color": "black"}, "encoding": {"x": {"datum": 697.7, "type": "quantitative", "scale": {"domain": [0, 956], "nice": false, "zero": false}, "axis": null}, "x2": {"datum": 941}, "y": {"datum": 321, "type": "quantitative", "scale": {"domain": [0, 403], "nice": false, "zero": false, "reverse": true}, "axis": null}}},
{"mark": {"type": "text", "text": "TP + TN + FP + FN", "fontSize": 29, "fontWeight": "bold", "fontStyle": "italic"}, "encoding": {"x": {"datum": 819.3, "type": "quantitative", "scale": {"domain": [0, 956], "nice": false, "zero": false}, "axis": null}, "y": {"datum": 339.3, "type": "quantitative", "scale": {"domain": [0, 403], "nice": false, "zero": false, "reverse": true}, "axis": null}}}
]
},
{
"width": 956, "height": 403,
"data": {"name": "cells"},
"transform": [{"filter": "datum.m == 'Tree'"}],
"layer": [
{"transform": [{"filter": "datum.k == 'c' && datum.r != datum.c"}], "mark": {"type": "rect"}, "encoding": {"x": {"field": "c", "type": "nominal", "scale": {"domain": ["R","1","2","3","4","5","6","∑"], "range": [4.5, 962], "paddingInner": 0, "paddingOuter": 0}, "axis": null}, "y": {"field": "r", "type": "nominal", "scale": {"domain": ["P","H","G","1","2","3","4","5","6","∑"], "range": [35, 403], "paddingInner": 0, "paddingOuter": 0}, "axis": null}, "fill": {"field": "w", "type": "quantitative", "scale": {"domain": [0, 1], "range": ["#ffffff", "#f4cece"], "interpolate": "rgb"}, "legend": null}}},
{"transform": [{"filter": "datum.k == 'c' && datum.r == '1' && datum.c != '1'"}], "mark": {"type": "rect", "yOffset": 5.6}, "encoding": {"x": {"field": "c", "type": "nominal", "scale": {"domain": ["R","1","2","3","4","5","6","∑"], "range": [4.5, 962], "paddingInner": 0, "paddingOuter": 0}, "axis": null}, "y": {"datum": "G", "type": "nominal", "scale": {"domain": ["P","H","G","1","2","3","4","5","6","∑"], "range": [35, 403], "paddingInner": 0, "paddingOuter": 0}, "axis": null}, "fill": {"field": "w", "type": "quantitative", "scale": {"domain": [0, 1], "range": ["#ffffff", "#f4cece"], "interpolate": "rgb"}, "legend": null}}},
{"transform": [{"filter": "datum.k == 'c' && datum.r == datum.c"}], "mark": {"type": "rect"}, "encoding": {"x": {"field": "c", "type": "nominal", "scale": {"domain": ["R","1","2","3","4","5","6","∑"], "range": [4.5, 962], "paddingInner": 0, "paddingOuter": 0}, "axis": null}, "y": {"field": "r", "type": "nominal", "scale": {"domain": ["P","H","G","1","2","3","4","5","6","∑"], "range": [35, 403], "paddingInner": 0, "paddingOuter": 0}, "axis": null}, "color": {"field": "w", "type": "quantitative", "scale": {"domain": [0, 1], "range": ["#ffffff", "#cecef4"], "interpolate": "rgb"}, "legend": null}}},
{"transform": [{"filter": "datum.k == 'c' && datum.r == '1' && datum.c == '1'"}], "mark": {"type": "rect", "yOffset": 5.6}, "encoding": {"x": {"field": "c", "type": "nominal", "scale": {"domain": ["R","1","2","3","4","5","6","∑"], "range": [4.5, 962], "paddingInner": 0, "paddingOuter": 0}, "axis": null}, "y": {"datum": "G", "type": "nominal", "scale": {"domain": ["P","H","G","1","2","3","4","5","6","∑"], "range": [35, 403], "paddingInner": 0, "paddingOuter": 0}, "axis": null}, "color": {"field": "w", "type": "quantitative", "scale": {"domain": [0, 1], "range": ["#ffffff", "#cecef4"], "interpolate": "rgb"}, "legend": null}}},
{"transform": [{"filter": "datum.k == 'c'"}], "mark": {"type": "text", "fontSize": 23}, "encoding": {"x": {"field": "c", "type": "nominal", "scale": {"domain": ["R","1","2","3","4","5","6","∑"], "range": [4.5, 962], "paddingInner": 0, "paddingOuter": 0}, "axis": null}, "y": {"field": "r", "type": "nominal", "scale": {"domain": ["P","H","G","1","2","3","4","5","6","∑"], "range": [35, 403], "paddingInner": 0, "paddingOuter": 0}, "axis": null}, "text": {"field": "p", "type": "quantitative", "format": ".1%"}, "color": {"condition": {"test": "datum.p == 0", "value": "#707070"}, "value": "#111111"}}},
{"transform": [{"filter": "datum.k == 't'"}], "mark": {"type": "text", "fontSize": 24, "fontWeight": "bold"}, "encoding": {"x": {"field": "c", "type": "nominal", "scale": {"domain": ["R","1","2","3","4","5","6","∑"], "range": [4.5, 962], "paddingInner": 0, "paddingOuter": 0}, "axis": null}, "y": {"field": "r", "type": "nominal", "scale": {"domain": ["P","H","G","1","2","3","4","5","6","∑"], "range": [35, 403], "paddingInner": 0, "paddingOuter": 0}, "axis": null}, "text": {"field": "n", "type": "quantitative"}}},
{"transform": [{"filter": "datum.k == 't' && datum.r == '∑'"}], "mark": {"type": "text", "fontSize": 24, "fontWeight": "bold", "dy": 9}, "encoding": {"x": {"field": "c", "type": "nominal", "scale": {"domain": ["R","1","2","3","4","5","6","∑"], "range": [4.5, 962], "paddingInner": 0, "paddingOuter": 0}, "axis": null}, "y": {"datum": "H", "type": "nominal", "scale": {"domain": ["P","H","G","1","2","3","4","5","6","∑"], "range": [35, 403], "paddingInner": 0, "paddingOuter": 0}, "axis": null}, "text": {"field": "c", "type": "nominal"}}},
{"transform": [{"filter": "datum.k == 't' && datum.c == '∑'"}], "mark": {"type": "text", "fontSize": 24, "fontWeight": "bold", "dx": 37}, "encoding": {"x": {"datum": "R", "type": "nominal", "scale": {"domain": ["R","1","2","3","4","5","6","∑"], "range": [4.5, 962], "paddingInner": 0, "paddingOuter": 0}, "axis": null}, "y": {"field": "r", "type": "nominal", "scale": {"domain": ["P","H","G","1","2","3","4","5","6","∑"], "range": [35, 403], "paddingInner": 0, "paddingOuter": 0}, "axis": null}, "text": {"field": "r", "type": "nominal"}}},
{"transform": [{"filter": "datum.k == 't' && datum.r == '∑' && datum.c == '∑'"}], "mark": {"type": "text", "fontSize": 23.5, "fontWeight": "bold", "align": "left", "dx": -76.6, "dy": -29.4}, "encoding": {"x": {"datum": "1", "type": "nominal", "scale": {"domain": ["R","1","2","3","4","5","6","∑"], "range": [4.5, 962], "paddingInner": 0, "paddingOuter": 0}, "axis": null}, "y": {"datum": "P", "type": "nominal", "scale": {"domain": ["P","H","G","1","2","3","4","5","6","∑"], "range": [35, 403], "paddingInner": 0, "paddingOuter": 0}, "axis": null}, "text": {"field": "t", "type": "nominal"}}},
{"transform": [{"filter": "datum.k == 't' && datum.r == '∑' && datum.c == '∑'"}], "mark": {"type": "text", "text": "Predicted", "fontSize": 24, "fontStyle": "italic", "color": "#555555", "dx": -3, "dy": 7.6}, "encoding": {"x": {"datum": "1", "type": "nominal", "scale": {"domain": ["R","1","2","3","4","5","6","∑"], "range": [4.5, 962], "paddingInner": 0, "paddingOuter": 0}, "axis": null}, "y": {"datum": "P", "type": "nominal", "scale": {"domain": ["P","H","G","1","2","3","4","5","6","∑"], "range": [35, 403], "paddingInner": 0, "paddingOuter": 0}, "axis": null}}},
{"transform": [{"filter": "datum.k == 't' && datum.r == '∑' && datum.c == '∑'"}], "mark": {"type": "text", "text": "Actual", "fontSize": 24, "fontStyle": "italic", "color": "#555555", "align": "left", "dx": -61}, "encoding": {"x": {"datum": "R", "type": "nominal", "scale": {"domain": ["R","1","2","3","4","5","6","∑"], "range": [4.5, 962], "paddingInner": 0, "paddingOuter": 0}, "axis": null}, "y": {"datum": "1", "type": "nominal", "scale": {"domain": ["P","H","G","1","2","3","4","5","6","∑"], "range": [35, 403], "paddingInner": 0, "paddingOuter": 0}, "axis": null}}}
]
}
]
},
{
"data": {"name": "cells"},
"transform": [{"filter": "datum.m != 'Tree'"}],
"facet": {"field": "m", "type": "nominal", "sort": ["kNN", "Logistic Regression", "Random Forest", "SVM", "Naive Bayes", "Neural Network"], "header": {"labels": false, "title": null, "labelPadding": 0, "titlePadding": 0, "labelFontSize": 1, "labelColor": "transparent"}},
"columns": 2,
"spacing": 4,
"bounds": "flush",
"spec": {
"width": 956, "height": 428,
"layer": [
{"transform": [{"filter": "datum.k == 'c' && datum.r != datum.c"}], "mark": {"type": "rect"}, "encoding": {"x": {"field": "c", "type": "nominal", "scale": {"domain": ["R","1","2","3","4","5","6","∑"], "range": [4.5, 962], "paddingInner": 0, "paddingOuter": 0}, "axis": null}, "y": {"field": "r", "type": "nominal", "scale": {"domain": ["P","H","G","1","2","3","4","5","6","∑"], "range": [60, 428], "paddingInner": 0, "paddingOuter": 0}, "axis": null}, "fill": {"field": "w", "type": "quantitative", "scale": {"domain": [0, 1], "range": ["#ffffff", "#f4cece"], "interpolate": "rgb"}, "legend": null}}},
{"transform": [{"filter": "datum.k == 'c' && datum.r == '1' && datum.c != '1'"}], "mark": {"type": "rect", "yOffset": 7}, "encoding": {"x": {"field": "c", "type": "nominal", "scale": {"domain": ["R","1","2","3","4","5","6","∑"], "range": [4.5, 962], "paddingInner": 0, "paddingOuter": 0}, "axis": null}, "y": {"datum": "G", "type": "nominal", "scale": {"domain": ["P","H","G","1","2","3","4","5","6","∑"], "range": [60, 428], "paddingInner": 0, "paddingOuter": 0}, "axis": null}, "fill": {"field": "w", "type": "quantitative", "scale": {"domain": [0, 1], "range": ["#ffffff", "#f4cece"], "interpolate": "rgb"}, "legend": null}}},
{"transform": [{"filter": "datum.k == 'c' && datum.r == datum.c"}], "mark": {"type": "rect"}, "encoding": {"x": {"field": "c", "type": "nominal", "scale": {"domain": ["R","1","2","3","4","5","6","∑"], "range": [4.5, 962], "paddingInner": 0, "paddingOuter": 0}, "axis": null}, "y": {"field": "r", "type": "nominal", "scale": {"domain": ["P","H","G","1","2","3","4","5","6","∑"], "range": [60, 428], "paddingInner": 0, "paddingOuter": 0}, "axis": null}, "color": {"field": "w", "type": "quantitative", "scale": {"domain": [0, 1], "range": ["#ffffff", "#cecef4"], "interpolate": "rgb"}, "legend": null}}},
{"transform": [{"filter": "datum.k == 'c' && datum.r == '1' && datum.c == '1'"}], "mark": {"type": "rect", "yOffset": 7}, "encoding": {"x": {"field": "c", "type": "nominal", "scale": {"domain": ["R","1","2","3","4","5","6","∑"], "range": [4.5, 962], "paddingInner": 0, "paddingOuter": 0}, "axis": null}, "y": {"datum": "G", "type": "nominal", "scale": {"domain": ["P","H","G","1","2","3","4","5","6","∑"], "range": [60, 428], "paddingInner": 0, "paddingOuter": 0}, "axis": null}, "color": {"field": "w", "type": "quantitative", "scale": {"domain": [0, 1], "range": ["#ffffff", "#cecef4"], "interpolate": "rgb"}, "legend": null}}},
{"transform": [{"filter": "datum.k == 'c'"}], "mark": {"type": "text", "fontSize": 23}, "encoding": {"x": {"field": "c", "type": "nominal", "scale": {"domain": ["R","1","2","3","4","5","6","∑"], "range": [4.5, 962], "paddingInner": 0, "paddingOuter": 0}, "axis": null}, "y": {"field": "r", "type": "nominal", "scale": {"domain": ["P","H","G","1","2","3","4","5","6","∑"], "range": [60, 428], "paddingInner": 0, "paddingOuter": 0}, "axis": null}, "text": {"field": "p", "type": "quantitative", "format": ".1%"}, "color": {"condition": {"test": "datum.p == 0", "value": "#707070"}, "value": "#111111"}}},
{"transform": [{"filter": "datum.k == 't'"}], "mark": {"type": "text", "fontSize": 24, "fontWeight": "bold"}, "encoding": {"x": {"field": "c", "type": "nominal", "scale": {"domain": ["R","1","2","3","4","5","6","∑"], "range": [4.5, 962], "paddingInner": 0, "paddingOuter": 0}, "axis": null}, "y": {"field": "r", "type": "nominal", "scale": {"domain": ["P","H","G","1","2","3","4","5","6","∑"], "range": [60, 428], "paddingInner": 0, "paddingOuter": 0}, "axis": null}, "text": {"field": "n", "type": "quantitative"}}},
{"transform": [{"filter": "datum.k == 't' && datum.r == '∑'"}], "mark": {"type": "text", "fontSize": 24, "fontWeight": "bold", "dy": 9}, "encoding": {"x": {"field": "c", "type": "nominal", "scale": {"domain": ["R","1","2","3","4","5","6","∑"], "range": [4.5, 962], "paddingInner": 0, "paddingOuter": 0}, "axis": null}, "y": {"datum": "H", "type": "nominal", "scale": {"domain": ["P","H","G","1","2","3","4","5","6","∑"], "range": [60, 428], "paddingInner": 0, "paddingOuter": 0}, "axis": null}, "text": {"field": "c", "type": "nominal"}}},
{"transform": [{"filter": "datum.k == 't' && datum.c == '∑'"}], "mark": {"type": "text", "fontSize": 24, "fontWeight": "bold", "dx": 37}, "encoding": {"x": {"datum": "R", "type": "nominal", "scale": {"domain": ["R","1","2","3","4","5","6","∑"], "range": [4.5, 962], "paddingInner": 0, "paddingOuter": 0}, "axis": null}, "y": {"field": "r", "type": "nominal", "scale": {"domain": ["P","H","G","1","2","3","4","5","6","∑"], "range": [60, 428], "paddingInner": 0, "paddingOuter": 0}, "axis": null}, "text": {"field": "r", "type": "nominal"}}},
{"transform": [{"filter": "datum.k == 't' && datum.r == '∑' && datum.c == '∑'"}], "mark": {"type": "text", "fontSize": 23.5, "fontWeight": "bold", "align": "left", "dx": -70, "dy": -54.4}, "encoding": {"x": {"datum": "1", "type": "nominal", "scale": {"domain": ["R","1","2","3","4","5","6","∑"], "range": [4.5, 962], "paddingInner": 0, "paddingOuter": 0}, "axis": null}, "y": {"datum": "P", "type": "nominal", "scale": {"domain": ["P","H","G","1","2","3","4","5","6","∑"], "range": [60, 428], "paddingInner": 0, "paddingOuter": 0}, "axis": null}, "text": {"field": "t", "type": "nominal"}}},
{"transform": [{"filter": "datum.k == 't' && datum.r == '∑' && datum.c == '∑'"}], "mark": {"type": "text", "text": "Predicted", "fontSize": 24, "fontStyle": "italic", "color": "#555555", "dx": -3, "dy": 8}, "encoding": {"x": {"datum": "1", "type": "nominal", "scale": {"domain": ["R","1","2","3","4","5","6","∑"], "range": [4.5, 962], "paddingInner": 0, "paddingOuter": 0}, "axis": null}, "y": {"datum": "P", "type": "nominal", "scale": {"domain": ["P","H","G","1","2","3","4","5","6","∑"], "range": [60, 428], "paddingInner": 0, "paddingOuter": 0}, "axis": null}}},
{"transform": [{"filter": "datum.k == 't' && datum.r == '∑' && datum.c == '∑'"}], "mark": {"type": "text", "text": "Actual", "fontSize": 24, "fontStyle": "italic", "color": "#555555", "align": "left", "dx": -61}, "encoding": {"x": {"datum": "R", "type": "nominal", "scale": {"domain": ["R","1","2","3","4","5","6","∑"], "range": [4.5, 962], "paddingInner": 0, "paddingOuter": 0}, "axis": null}, "y": {"datum": "1", "type": "nominal", "scale": {"domain": ["P","H","G","1","2","3","4","5","6","∑"], "range": [60, 428], "paddingInner": 0, "paddingOuter": 0}, "axis": null}}}
]
}
}
]
}
